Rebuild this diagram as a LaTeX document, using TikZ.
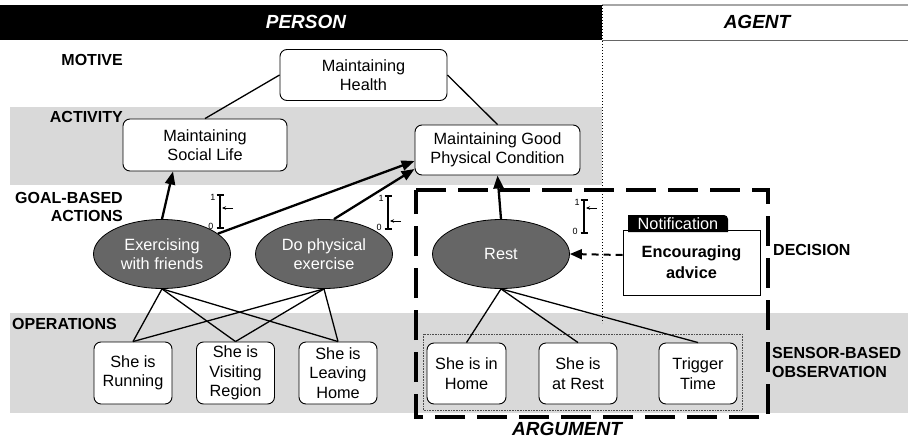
\documentclass[tikz,border=0pt]{standalone}
\usepackage{fontspec}
\setmainfont{Liberation Sans}
\usetikzlibrary{shapes.geometric,arrows.meta}
\definecolor{band}{HTML}{D9D9D9}
\definecolor{ovalfill}{HTML}{666666}
\begin{document}
\begin{tikzpicture}[x=1pt,y=-1pt,
  box/.style={draw=black,line width=0.9pt,fill=white,rounded corners=7pt,align=center,inner sep=0pt,
    font=\fontsize{16.3}{19.5}\selectfont},
  oval/.style={ellipse,draw=black,line width=0.8pt,fill=ovalfill,text=white,align=center,inner sep=0pt,
    minimum width=137pt,minimum height=69pt,font=\fontsize{16.3}{19.5}\selectfont},
  lbl/.style={font=\fontsize{16}{18.5}\selectfont\bfseries,inner sep=0pt,align=left},
  ttl/.style={font=\fontsize{19}{22}\selectfont\bfseries\itshape,inner sep=0pt},
  arr/.style={line width=2.3pt,-{Triangle[length=13pt,width=10pt]}},
  ln/.style={line width=1.3pt},
  tiny/.style={font=\fontsize{9}{10}\selectfont,inner sep=0pt}]
\useasboundingbox (0,0) rectangle (908,442);
% bands
\fill[band] (10,107) rectangle (602,185);
\fill[band] (10,313) rectangle (908,413);
% header
\fill[black] (0,5) rectangle (602,40);
\draw[line width=1.5pt,black!35] (602,5) -- (908,5);
\draw[line width=1pt,black!60] (602,40) -- (908,40);
\node[ttl,text=white] (person) at (306,22) {PERSON};
\node[ttl] (agent) at (757,22) {AGENT};
\draw[line width=1pt,dotted] (602,5) -- (602,323);
% labels
\node[lbl,anchor=east] (motive) at (123,60) {MOTIVE};
\node[lbl,anchor=east] (activity) at (123,117) {ACTIVITY};
\node[lbl,anchor=east] (goal1) at (123,198) {GOAL-BASED};
\node[lbl,anchor=east] (goal2) at (123,216) {ACTIONS};
\node[lbl,anchor=west] (ops) at (12,324) {OPERATIONS};
\node[lbl,anchor=west] (decision) at (773,250) {DECISION};
\node[lbl,anchor=west] (sensor) at (772,362.5) {SENSOR-BASED\\OBSERVATION};
% argument frame
\draw[black!70,line width=0.6pt,densely dotted] (423,334) rectangle (742,410);
\draw[line width=4pt,dash pattern=on 30pt off 12pt] (416,190) -- (768,190) -- (768,417) -- (416,417) -- cycle;
\node[ttl] (argument) at (567,429) {ARGUMENT};
% nodes
\node[box,minimum width=167pt,minimum height=51pt] (health) at (363.5,75) {Maintaining\\Health};
\node[box,minimum width=164pt,minimum height=52pt] (social) at (205,145) {Maintaining\\Social Life};
\node[box,minimum width=165pt,minimum height=50pt] (phys) at (497.5,150) {Maintaining Good\\Physical Condition};
\node[oval] (ex) at (162,254) {Exercising\\with friends};
\node[oval] (do) at (324,254) {Do physical\\exercise};
\node[oval] (rest) at (501,254) {Rest};
\node[box,minimum width=78pt,minimum height=62pt] (run) at (133,373) {She is\\Running};
\node[box,minimum width=78pt,minimum height=62pt] (vis) at (235.5,373) {She is\\Visiting\\Region};
\node[box,minimum width=78pt,minimum height=62pt] (lea) at (338,373) {She is\\Leaving\\Home};
\node[box,minimum width=79pt,minimum height=61pt] (home) at (466.5,373.5) {She is in\\Home};
\node[box,minimum width=78pt,minimum height=61pt] (atrest) at (578,373.5) {She is\\at Rest};
\node[box,minimum width=78pt,minimum height=61pt] (trig) at (698,373.5) {Trigger\\Time};
% notification
\node[draw=black,line width=0.9pt,fill=white,minimum width=137pt,minimum height=65pt,inner sep=0pt,
  align=center,font=\fontsize{16.3}{21}\selectfont\bfseries] (enc) at (691.5,262.5) {Encouraging\\advice};
\fill[black] (628,232) -- (628,215) [rounded corners=4pt] -- (728,215) [sharp corners] -- (728,232) -- cycle;
\node[text=white,inner sep=0pt,font=\fontsize{16.3}{19}\selectfont] (tab) at (678,224) {Notification};
% connectors
\draw[ln] (health.west) -- (social.north);
\draw[ln] (health.east) -- (phys.north);
\draw[arr] (ex.north) -- ([xshift=-32pt]social.south);
\draw[arr] (ex.20) -- ([yshift=-11pt]phys.west);
\draw[arr] ([xshift=10pt]do.north) -- ([yshift=-19pt]phys.west);
\draw[arr] (rest.north) -- (phys.south);
\foreach \a in {ex,do}{
  \foreach \b in {run,vis,lea}{ \draw[ln] (\a.south) -- (\b.north); }}
\foreach \b in {home,atrest,trig}{ \draw[ln] (rest.south) -- (\b.north); }
\draw[line width=2pt,dash pattern=on 7pt off 5pt,-{Triangle[length=12pt,width=10pt]}] ([yshift=7.5pt]enc.west) -- (rest.east);
% scale bars
\foreach \x/\yt/\ya/\nm in {220/195/208/a,388/196/221/b,584/200/208/c}{
  \coordinate (top\nm) at (\x,\yt);
  \coordinate (bot\nm) at (\x,\yt+33);
  \draw[line width=1.6pt] (top\nm) -- (bot\nm);
  \draw[line width=1.4pt] ([xshift=-3.5pt]top\nm) -- ([xshift=3.5pt]top\nm);
  \draw[line width=1.4pt] ([xshift=-3.5pt]bot\nm) -- ([xshift=3.5pt]bot\nm);
  \draw[line width=0.8pt,-{Stealth[length=4pt,width=3.5pt]}] (\x+13,\ya) -- (\x+2,\ya);
  \node[tiny] (one\nm) at (\x-7,\yt+2) {1};
  \node[tiny] (zero\nm) at (\x-9,\yt+31) {0};
}
\end{tikzpicture}
\end{document}
